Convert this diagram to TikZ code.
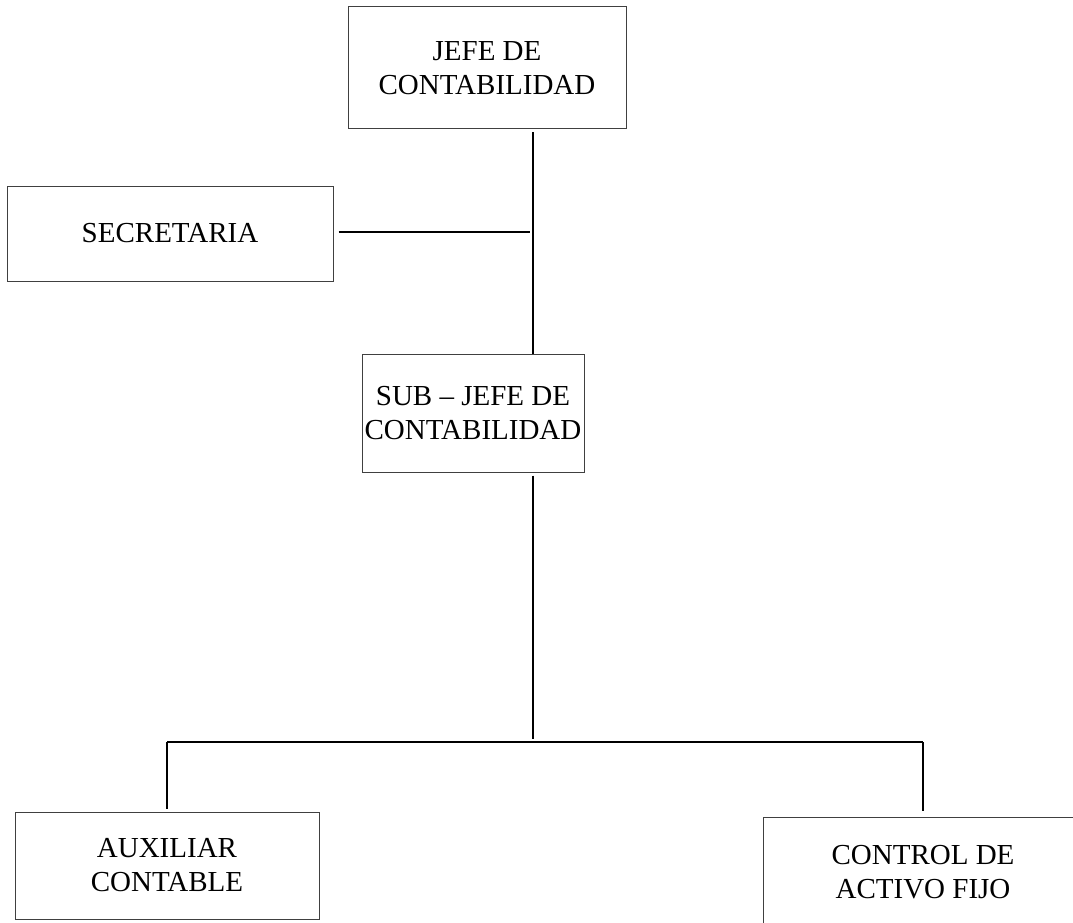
\documentclass[tikz,border=0pt]{standalone}
\usepackage{fontspec}
\setmainfont{Liberation Serif}
\usetikzlibrary{calc}

\tikzset{
	cargo/.style={draw=black!75, line width=1pt, align=center, inner sep=0pt,
		font=\fontsize{29}{34}\selectfont},
	enlace/.style={draw=black, line width=1.6pt}
}

\begin{document}
\begin{tikzpicture}[x=1pt, y=-1pt]
		\clip (0,0) rectangle (1073,923);
		%cajas del organigrama
		\node[cargo, minimum width=278pt, minimum height=122pt] (jefe) at (487,68) {JEFE DE\\CONTABILIDAD};
		\node[cargo, minimum width=326pt, minimum height=95pt] (sec) at (170,233.5) {SECRETARIA};
		\node[cargo, minimum width=222pt, minimum height=118pt] (sub) at (473,413) {SUB -- JEFE DE\\CONTABILIDAD};
		\node[cargo, minimum width=304pt, minimum height=107pt] (aux) at (167,865.5) {AUXILIAR\\CONTABLE};
		\node[cargo, minimum width=320pt, minimum height=110pt] (ctrl) at (923,872) {CONTROL DE\\ACTIVO FIJO};
		\coordinate (tronco) at (533,232);
		\coordinate (barra) at (533,742);
		%\path[enlace] (jefe) edge (sub);
		\path[enlace]
		([yshift=-3pt]jefe.south -| tronco) edge (sub.north -| tronco)
		([xshift=5pt]sec.east |- tronco) edge ([xshift=-3pt]tronco)
		([yshift=-3pt]sub.south -| barra) edge ([yshift=3pt]barra)
		(aux.north |- barra) edge (ctrl.north |- barra)
		(aux.north |- barra) edge ([yshift=3pt]aux.north)
		(ctrl.north |- barra) edge ([yshift=6pt]ctrl.north);
		\end{tikzpicture}
\end{document}
